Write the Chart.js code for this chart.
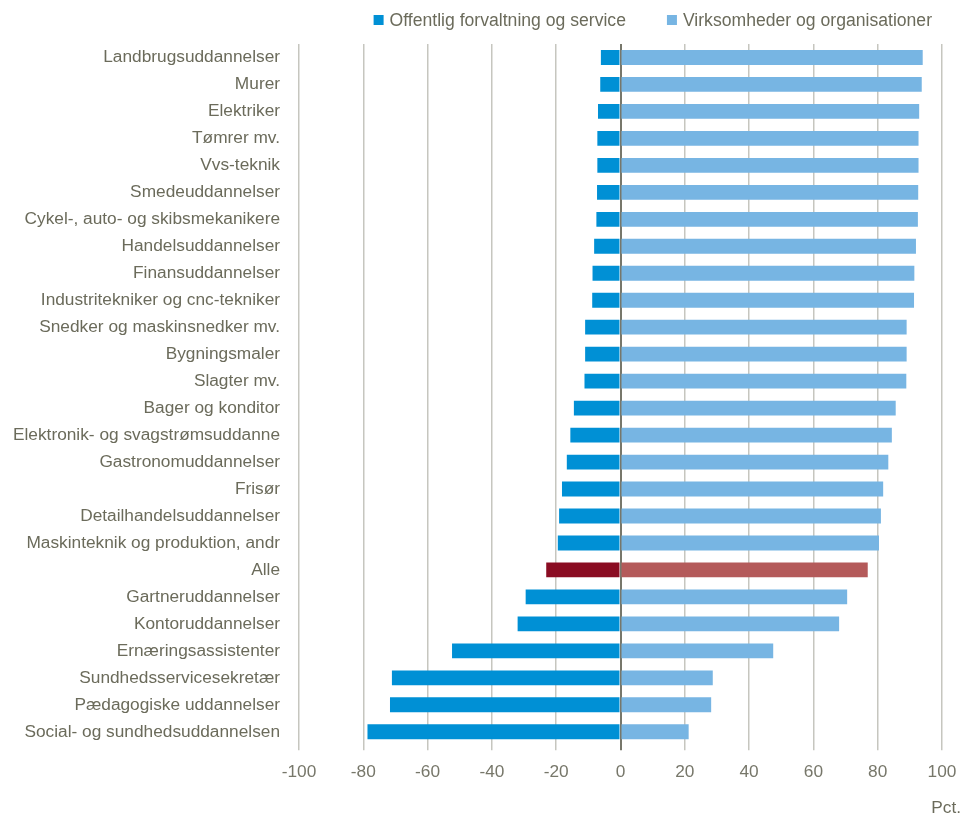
<!DOCTYPE html>
<html>
<head>
<meta charset="utf-8">
<script src="https://cdn.jsdelivr.net/npm/chart.js@4.4.1/dist/chart.umd.min.js"></script>
<style>
  html, body { margin: 0; padding: 0; background: #fff; }
  #wrap { width: 963px; height: 820px; }
</style>
</head>
<body>
<div id="wrap"><canvas id="barChart"></canvas></div>
<script>
const uddannelser = [
  'Landbrugsuddannelser', 'Murer', 'Elektriker', 'Tømrer mv.', 'Vvs-teknik',
  'Smedeuddannelser', 'Cykel-, auto- og skibsmekanikere', 'Handelsuddannelser',
  'Finansuddannelser', 'Industritekniker og cnc-tekniker', 'Snedker og maskinsnedker mv.',
  'Bygningsmaler', 'Slagter mv.', 'Bager og konditor', 'Elektronik- og svagstrømsuddanne',
  'Gastronomuddannelser', 'Frisør', 'Detailhandelsuddannelser', 'Maskinteknik og produktion, andr',
  'Alle', 'Gartneruddannelser', 'Kontoruddannelser', 'Ernæringsassistenter',
  'Sundhedsservicesekretær', 'Pædagogiske uddannelser', 'Social- og sundhedsuddannelsen'
];
// offentlig sektor vises som negative andele (venstre side)
const offentlig = [
  -6.1, -6.3, -7.0, -7.2, -7.2, -7.3, -7.5, -8.2, -8.7, -8.8, -11.0, -11.0, -11.2,
  -14.5, -15.6, -16.7, -18.2, -19.1, -19.5, -23.1, -29.5, -32.0, -52.4, -71.1, -71.7, -78.7
];
const virksomheder = [
  94.0, 93.7, 92.9, 92.7, 92.7, 92.6, 92.5, 91.9, 91.4, 91.3, 89.0, 89.0, 88.9,
  85.6, 84.4, 83.3, 81.7, 81.0, 80.4, 76.9, 70.5, 68.0, 47.5, 28.7, 28.2, 21.2
];
const xTicks = [-100, -80, -60, -40, -20, 0, 20, 40, 60, 80, 100];
const seriesNames = ['Offentlig forvaltning og service', 'Virksomheder og organisationer'];

const blaaMoerk = '#0090d5';
const blaaLys = '#77b5e3';
const roedMoerk = '#8a0c22';
const roedLys = '#b45a5a';
const tekstFarve = '#6b6b5b';
const FONT = '"Liberation Sans", Arial, sans-serif';
const FS = 17.3;

const alleIdx = uddannelser.indexOf('Alle');
const farver = (normal, fremhaev) => uddannelser.map((_, i) => i === alleIdx ? fremhaev : normal);

// tegner forklaringen øverst til højre og "Pct." under x-aksen
const ekstraTekst = {
  id: 'ekstraTekst',
  afterDraw(chart) {
    const ctx = chart.ctx;
    ctx.save();
    ctx.font = '17.6px ' + FONT;
    ctx.textBaseline = 'middle';
    ctx.textAlign = 'left';
    const boks = 10, mellem = 6, gap = 41;
    const items = chart.data.datasets.map(ds => ({ text: ds.label, color: ds.legendColor }));
    const widths = items.map(it => boks + mellem + ctx.measureText(it.text).width);
    let x = chart.chartArea.right - 10 - widths.reduce((a, b) => a + b, 0) - gap * (items.length - 1);
    const y = 20;
    items.forEach((it, i) => {
      ctx.fillStyle = it.color;
      ctx.fillRect(x, y - boks / 2, boks, boks);
      ctx.fillStyle = tekstFarve;
      ctx.fillText(it.text, x + boks + mellem, y + 1);
      x += widths[i] + gap;
    });
    ctx.font = FS + 'px ' + FONT;
    ctx.textAlign = 'right';
    ctx.fillText('Pct.', chart.width - 2, 808);
    ctx.restore();
  }
};

new Chart(document.getElementById('barChart').getContext('2d'), {
  type: 'bar',
  data: {
    labels: uddannelser,
    datasets: [
      {
        label: seriesNames[0],
        data: offentlig,
        backgroundColor: farver(blaaMoerk, roedMoerk),
        legendColor: blaaMoerk
      },
      {
        label: seriesNames[1],
        data: virksomheder,
        backgroundColor: farver(blaaLys, roedLys),
        legendColor: blaaLys
      }
    ]
  },
  options: {
    indexAxis: 'y',
    responsive: true,
    maintainAspectRatio: false,
    animation: false,
    layout: { padding: { top: 44, right: 21, bottom: 25, left: 3 } },
    datasets: { bar: { categoryPercentage: 1, barPercentage: 0.55 } },
    plugins: {
      legend: { display: false },
      tooltip: { enabled: false }
    },
    scales: {
      x: {
        stacked: true,
        min: -100,
        max: 100,
        afterBuildTicks: scale => { scale.ticks = xTicks.map(v => ({ value: v })); },
        afterFit: scale => { scale.paddingLeft = 0; scale.paddingRight = 0; },
        border: { display: false },
        grid: {
          color: c => c.tick && c.tick.value === 0 ? '#77776b' : '#c6c6bf',
          lineWidth: c => c.tick && c.tick.value === 0 ? 2 : 1.5,
          tickLength: 5
        },
        ticks: {
          color: '#77776a',
          font: { family: FONT, size: FS },
          padding: 12,
          maxRotation: 0
        }
      },
      y: {
        stacked: true,
        border: { display: false },
        grid: { display: false, drawTicks: false },
        afterFit: scale => { scale.width = 296; },
        ticks: {
          color: tekstFarve,
          font: { family: FONT, size: FS },
          padding: 19,
          autoSkip: false
        }
      }
    }
  },
  plugins: [ekstraTekst]
});
</script>
</body>
</html>
